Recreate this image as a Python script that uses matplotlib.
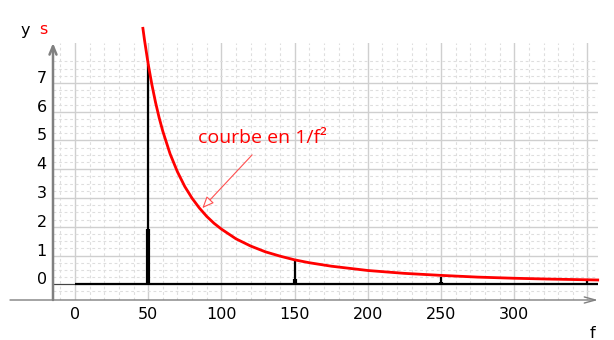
import matplotlib
matplotlib.use("Agg")
import matplotlib.pyplot as plt
import matplotlib.transforms as mtransforms
import numpy as np

# ---- data ----
peak_freqs = [50, 150, 250, 350]
peak_tops = [7.66, 0.85, 0.27, 0.13]
peak_bases = [1.91, 0.20, 0.09, 0.05]

curve_f = [46.4, 47.5, 50, 52.5, 55, 57.5, 60, 65, 70, 75, 80, 85, 90, 95, 100,
           110, 120, 130, 140, 150, 160, 175, 200, 225, 250, 275, 300, 325, 357]
curve_s = [8.90, 8.49, 7.66, 6.95, 6.33, 5.79, 5.32, 4.53, 3.91, 3.40, 2.99, 2.65,
           2.36, 2.12, 1.92, 1.58, 1.33, 1.13, 0.98, 0.85, 0.75, 0.63, 0.48, 0.38,
           0.31, 0.25, 0.21, 0.18, 0.15]

x_ticks = [0, 50, 100, 150, 200, 250, 300]
y_ticks = [0, 1, 2, 3, 4, 5, 6, 7]
x_range = (-15, 357.2)
y_range = (-0.546, 8.39)

fig = plt.figure(figsize=(6.14, 3.4), dpi=100)
ax = fig.add_axes([53 / 614, 40 / 340, 545 / 614, 257 / 340])
ax.set_xlim(*x_range)
ax.set_ylim(*y_range)

# grid
ax.set_xticks(x_ticks + [350])
ax.set_xticks(np.arange(-10, 357, 10), minor=True)
ax.set_yticks(y_ticks)
ax.set_yticks(np.arange(-0.25, 7.8, 0.25), minor=True)
ax.grid(True, which="major", color="#cfcfcf", lw=1.0, zorder=0)
ax.grid(True, which="minor", color="#dedede", lw=0.8, ls=(0, (2.5, 2.5)), zorder=0)
ax.set_axisbelow(True)
ax.tick_params(which="both", length=0)
ax.tick_params(axis="x", pad=5, labelsize=11.5)
ax.tick_params(axis="y", pad=4.5, labelsize=11.5)
ax.set_xticklabels([str(t) for t in x_ticks] + [""])
off = mtransforms.ScaledTranslation(0, 6 / 100, fig.dpi_scale_trans)
for lab in ax.get_yticklabels():
    lab.set_transform(lab.get_transform() + off)
for s in ax.spines.values():
    s.set_visible(False)

# zero line to the left of 0
ax.plot([x_range[0], 0], [0, 0], color="#444444", lw=0.8, zorder=2)

# spectrum
ax.plot([0, x_range[1]], [0, 0], color="black", lw=1.6, zorder=3, solid_capstyle="butt")
ax.vlines(peak_freqs, 0, peak_tops, color="black", lw=1.6, zorder=3)
ax.vlines(peak_freqs, 0, peak_bases, color="black", lw=3.0, zorder=3)

# red 1/f^2 curve
ax.plot(curve_f, curve_s, color="#ff0000", lw=2.0, zorder=4, clip_on=False)

# axes arrows
gray = "#808080"
ax.annotate("", xy=(0, 1.0), xytext=(0, 0), xycoords="axes fraction",
            arrowprops=dict(arrowstyle="->,head_length=0.6,head_width=0.25", color=gray, lw=1.8,
                            shrinkA=0, shrinkB=0), annotation_clip=False)
ax.annotate("", xy=(1.0, 0), xytext=(-43 / 545, 0), xycoords="axes fraction",
            arrowprops=dict(arrowstyle="->,head_length=0.8,head_width=0.22", color=gray, lw=1.0,
                            shrinkA=0, shrinkB=0), annotation_clip=False)

# labels
fig.text(25 / 614, 1 - 30 / 340, "y", fontsize=11.5, color="black", ha="center", va="center")
fig.text(43 / 614, 1 - 30 / 340, "s", fontsize=11.5, color="#ff0000", ha="center", va="center")
fig.text(592 / 614, 1 - 333 / 340, "f", fontsize=11.5, color="black", ha="center", va="center")

ax.text(128, 5.1, "courbe en 1/f²", fontsize=14, color="#ff0000",
        family=["Open Sans", "DejaVu Sans"], ha="center", va="center")
ax.annotate("", xy=(87, 2.65), xytext=(121, 4.5),
            arrowprops=dict(arrowstyle="-|>,head_length=0.7,head_width=0.3", fc="white",
                            ec="#ff5050", lw=0.8, shrinkA=0, shrinkB=0))

fig.savefig("out.png", dpi=100)
